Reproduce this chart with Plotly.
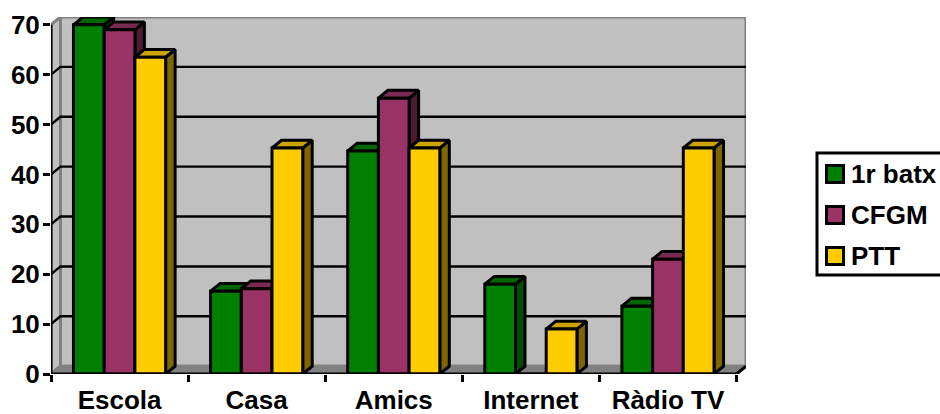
import plotly.graph_objects as go

categories = ["Escola", "Casa", "Amics", "Internet", "Ràdio TV"]
series_names = ["1r batx", "CFGM", "PTT"]
batx = [70, 16.6, 44.7, 18, 13.6]
cfgm = [69, 17.1, 55.3, 0, 23]
ptt = [63.5, 45.3, 45.3, 9, 45.3]
y_ticks = [0, 10, 20, 30, 40, 50, 60, 70]

front_colors = ["#008000", "#993366", "#FFCC00"]
top_colors = ["#006600", "#7A2952", "#CCA300"]
side_colors = ["#004D00", "#4D1A33", "#806600"]

W, H = 940, 414
L, R, T, B = 51, 746, 17, 374   # plot box in pixels
CAT_PX = 137.2
VAL_PX = 349 / 70
DX = 9.5 / CAT_PX               # 3-D depth in axis units
DY = 7.8 / VAL_PX
N = len(categories)
GAP = 45.0 / CAT_PX
BW = (1 - GAP) / 3
BLACK = "#000000"
LW = 3
FS = 26

fig = go.Figure()


def poly(xs, ys, fill, line, z, width=LW):
    fig.add_trace(go.Scatter(x=xs, y=ys, mode="lines", fill="toself", fillcolor=fill,
                             line=dict(color=line, width=width), hoverinfo="skip",
                             showlegend=False, zorder=z, cliponaxis=False))


def line(xs, ys, color, z, width=LW):
    fig.add_trace(go.Scatter(x=xs, y=ys, mode="lines", line=dict(color=color, width=width),
                             hoverinfo="skip", showlegend=False, zorder=z, cliponaxis=False))


top_v = max(y_ticks)
GREY = "#808080"
WALL = "#C0C0C0"
# walls and floor
poly([DX, N + DX, N + DX, DX, DX], [DY, DY, top_v + DY, top_v + DY, DY], WALL, GREY, -5)
poly([0, DX, DX, 0, 0], [0, DY, top_v + DY, top_v, 0], WALL, GREY, -5)
poly([0, N, N + DX, DX, 0], [0, 0, DY, DY, 0], GREY, GREY, -5)

# gridlines on the walls
gx, gy = [], []
for v in y_ticks[1:-1]:
    gx += [0, DX, N + DX, None]
    gy += [v, v + DY, v + DY, None]
line(gx, gy, BLACK, -4, 2.4)

# bars
for s, vals in enumerate([batx, cfgm, ptt]):
    centers = [i + 0.5 + (s - 1) * BW for i in range(N)]
    sx, sy, tx, ty = [], [], [], []
    for c, v in zip(centers, vals):
        if v <= 0:
            continue
        x0, x1 = c - BW / 2, c + BW / 2
        sx += [x1, x1 + DX, x1 + DX, x1, x1, None]
        sy += [0, DY, v + DY, v, 0, None]
        tx += [x0, x0 + DX, x1 + DX, x1, x0, None]
        ty += [v, v + DY, v + DY, v, v, None]
    poly(sx, sy, side_colors[s], BLACK, 2 * s)
    poly(tx, ty, top_colors[s], BLACK, 2 * s)
    fig.add_trace(go.Bar(x=centers, y=vals, width=BW, name=series_names[s],
                         marker=dict(color=front_colors[s], line=dict(color=BLACK, width=LW)),
                         showlegend=False, hoverinfo="skip", zorder=2 * s + 1, cliponaxis=False))

# front axis lines and the floor's right corner
line([0, 0], [0, top_v], BLACK, 20)
line([0, N], [0, 0], BLACK, 20)
line([N, N + DX], [0, DY], BLACK, 20)

fig.update_layout(
    width=W, height=H, barmode="overlay", showlegend=False,
    margin=dict(l=L, r=W - R, t=T, b=H - B, pad=0, autoexpand=False),
    paper_bgcolor="white", plot_bgcolor="white",
    font=dict(family="Liberation Sans", size=FS, color=BLACK, weight=700),
    xaxis=dict(range=[0, N + DX], tickmode="array", automargin=False,
               tickvals=[i + 0.5 for i in range(N)], ticktext=categories,
               ticks="", showgrid=False, zeroline=False, showline=False,
               ticklabelstandoff=8,
               tickfont=dict(family="Liberation Sans", size=FS, weight=700),
               minor=dict(tickmode="array", tickvals=list(range(N + 1)), ticks="outside",
                          ticklen=7, tickwidth=LW, tickcolor=BLACK, showgrid=False)),
    yaxis=dict(range=[0, top_v + DY], tickmode="array", tickvals=y_ticks, automargin=False,
               ticks="outside", ticklen=7, tickwidth=LW, tickcolor=BLACK,
               showgrid=False, zeroline=False, showline=False, ticklabelstandoff=-2,
               tickfont=dict(family="Liberation Sans", size=FS, weight=700)),
)


def px(x):
    return (x - L) / (R - L)


def py(y):
    return (B - y) / (B - T)


# legend
fig.add_shape(type="rect", xref="paper", yref="paper", x0=px(817), x1=px(945), y0=py(153), y1=py(275),
              line=dict(color=BLACK, width=LW), fillcolor="white")
for s, (name, cy) in enumerate(zip(series_names, [174, 215, 256])):
    fig.add_shape(type="rect", xref="paper", yref="paper", x0=px(826.5), x1=px(843.5),
                  y0=py(cy - 8.5), y1=py(cy + 8.5), fillcolor=front_colors[s],
                  line=dict(color=BLACK, width=LW))
    fig.add_annotation(text=name, xref="paper", yref="paper", x=px(848.5), y=py(cy),
                       xanchor="left", yanchor="middle", showarrow=False,
                       font=dict(family="Liberation Sans", size=FS, weight=700, color=BLACK))

fig.write_html("out.html", config={"displayModeBar": False},
               post_script="document.body.style.margin='0';document.body.style.overflow='hidden';")
